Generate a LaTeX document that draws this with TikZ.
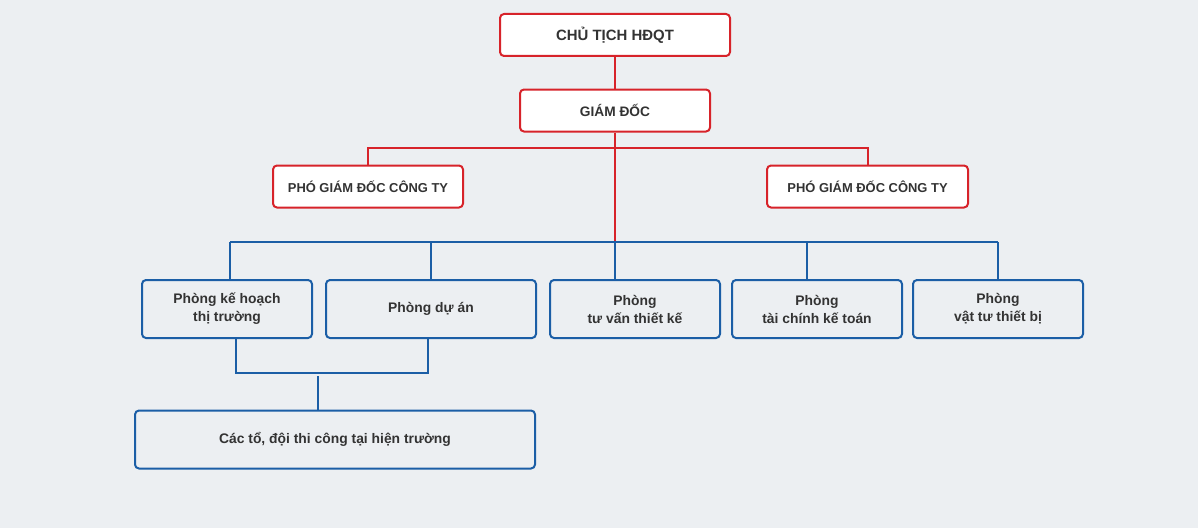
\documentclass[tikz,border=0pt]{standalone}
\usepackage{fontspec}
\setmainfont{Liberation Sans}
\definecolor{bgcol}{HTML}{ECEFF2}
\definecolor{redline}{HTML}{D7232A}
\definecolor{blueline}{HTML}{1B5EA6}
\definecolor{txtcol}{HTML}{333333}
\tikzset{
  redbox/.style={draw=redline, fill=white, line width=1.5pt, rounded corners=3pt,
    inner sep=0pt, text=txtcol, font=\bfseries},
  bluebox/.style={draw=blueline, fill=bgcol, line width=1.5pt, rounded corners=3pt,
    inner sep=0pt, text=txtcol, align=center, minimum height=43.5pt,
    font=\fontsize{10.4}{13.5}\selectfont\bfseries},
  redlink/.style={draw=redline, line width=1.5pt},
  bluelink/.style={draw=blueline, line width=1.5pt},
}
\begin{document}
\begin{tikzpicture}[x=0.75pt,y=-0.75pt]

        \fill[bgcol] (0,0) rectangle (1198,528);
        \useasboundingbox (0,0) rectangle (1198,528);

        % top of the chart
        \node[redbox, minimum width=172.5pt, minimum height=31.5pt,
              font=\fontsize{11.2}{14}\selectfont\bfseries] (chair) at (615,35) {CHỦ TỊCH HĐQT};
        \node[redbox, minimum width=142.5pt, minimum height=31.5pt,
              font=\fontsize{10.3}{13}\selectfont\bfseries] (dir) at (615,110.5) {GIÁM ĐỐC};
        \node[redbox, minimum width=142.5pt, minimum height=31.5pt,
              font=\fontsize{9.7}{12}\selectfont\bfseries] (depl) at (368,186.5) {PHÓ GIÁM ĐỐC CÔNG TY};
        \node[redbox, minimum width=150.75pt, minimum height=31.5pt,
              font=\fontsize{9.7}{12}\selectfont\bfseries] (depr) at (867.5,186.5) {PHÓ GIÁM ĐỐC CÔNG TY};

        % departments
        \node[bluebox, minimum width=127.5pt] (plan) at (227,309) {Phòng kế hoạch\\thị trường};
        \node[bluebox, minimum width=157.5pt] (proj) at (431,309) {Phòng dự án};
        \node[bluebox, minimum width=127.5pt] (cons) at (635,309) {Phòng\\tư vấn thiết kế};
        \node[bluebox, minimum width=127.5pt] (fin) at (817,309) {Phòng\\tài chính kế toán};
        \node[bluebox, minimum width=127.5pt] (equip) at (998,309) {Phòng\\vật tư thiết bị};
        \node[bluebox, minimum width=300pt] (team) at (335,439.5) {Các tổ, đội thi công tại hiện trường};

        \coordinate (redbar) at (615,148);
        \coordinate (bus) at (615,242);
        \coordinate (busl) at (230,242);
        \coordinate (busr) at (998,242);
        \coordinate (joinl) at (236,373);
        \coordinate (joinr) at (428,373);
        \coordinate (joint) at (318,376);

        % red links
        \draw[redlink] (chair) -- (dir);
        \draw[redlink] (dir) -- (bus);
        \draw[redlink] (depl.north) |- (redbar) -| (depr.north);

        % blue links
        \draw[bluelink] (busl) -- (busr);
        \draw[bluelink] (busl) -- (busl |- plan.north);
        \draw[bluelink] (bus -| proj) -- (proj.north);
        \draw[bluelink] (bus) -- (bus |- cons.north);
        \draw[bluelink] (bus -| 807,0) -- (807,0 |- fin.north);
        \draw[bluelink] (busr) -- (equip.north);
        \draw[bluelink] (joinl |- plan.south) -- (joinl) -- (joinr) -- (joinr |- proj.south);
        \draw[bluelink] (joint) -- (joint |- team.north);

\end{tikzpicture}
\end{document}
